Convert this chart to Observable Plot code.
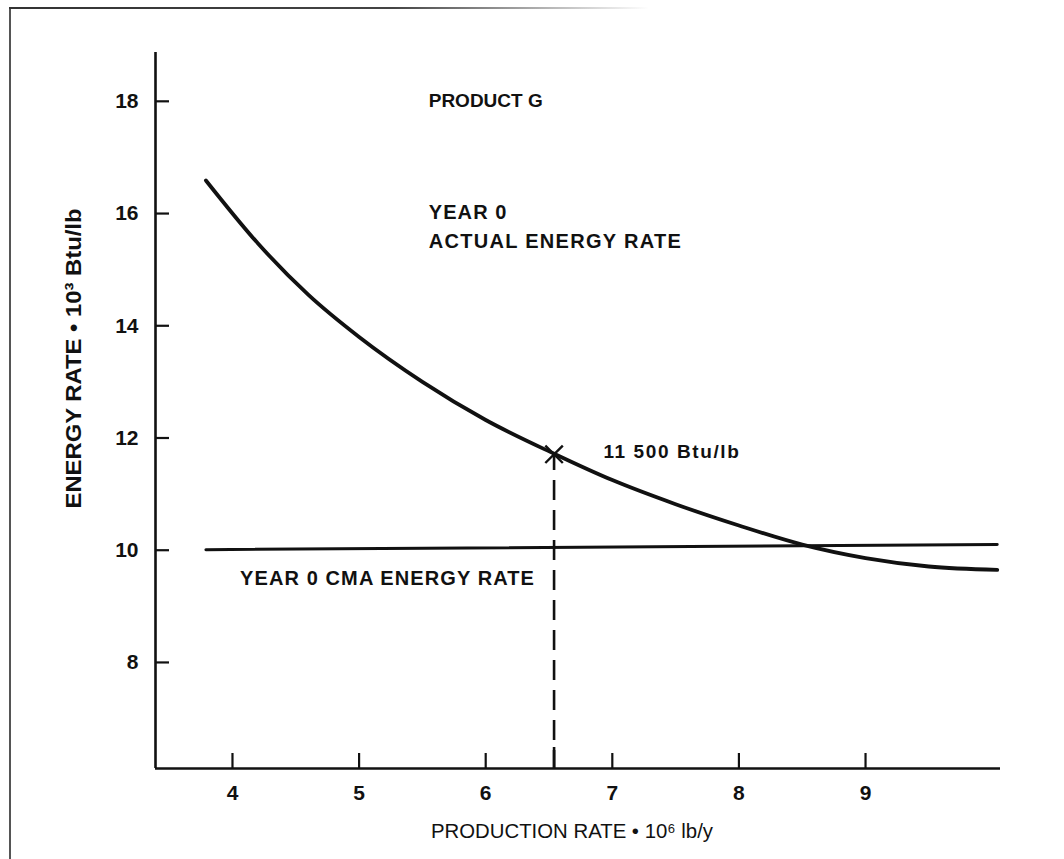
<!DOCTYPE html>
<html>
<head>
<meta charset="utf-8">
<script src="https://cdn.jsdelivr.net/npm/d3@7"></script>
<script src="https://cdn.jsdelivr.net/npm/@observablehq/plot@0.6"></script>
<style>
  html, body { margin: 0; padding: 0; background: #fff; }
  #wrap { position: relative; width: 1064px; height: 859px; overflow: hidden; }
  #edgeL { position: absolute; left: 9px; top: 8px; width: 1.5px; height: 851px; background: #555; }
  #edgeT { position: absolute; left: 9px; top: 7px; width: 640px; height: 2px;
           background: linear-gradient(to right, #333 0%, #444 60%, rgba(120,120,120,0) 100%); }
  #chart { position: absolute; left: 0; top: 0; }
</style>
</head>
<body>
<div id="wrap"><div id="edgeL"></div><div id="edgeT"></div><div id="chart"></div></div>
<script>
// ---- data ----
const xTicks = [4, 5, 6, 7, 8, 9];
const yTicks = [8, 10, 12, 14, 16, 18];

// Year 0 actual energy rate curve (production rate 10^6 lb/y, energy rate 10^3 Btu/lb)
const actualX = [3.79, 4.2, 4.6, 5.0, 5.5, 6.0, 6.54, 7.0, 7.5, 8.0, 8.5, 9.0, 9.5, 10.04];
const actualY = [16.59, 15.47, 14.55, 13.80, 13.00, 12.32, 11.72, 11.25, 10.82, 10.44, 10.10, 9.86, 9.71, 9.65];

// Year 0 CMA energy rate (nearly flat line)
const cmaX = [3.79, 10.04];
const cmaY = [10.01, 10.10];

// Marked operating point
const pointX = [6.54];
const pointY = [11.71];

// Annotation texts
const noteText = ["PRODUCT G", "YEAR 0", "ACTUAL ENERGY RATE", "11 500 Btu/lb", "YEAR 0 CMA ENERGY RATE"];
const noteX = [5.55, 5.55, 5.55, 6.93, 4.06];
const noteY = [18.0, 16.02, 15.5, 11.75, 9.5];

const xLabel = "PRODUCTION RATE \u2022 10\u2076 lb/y";
const yLabel = "ENERGY RATE \u2022 10\u00B3 Btu/lb";

// ---- tables ----
const actual = actualX.map((x, i) => ({x, y: actualY[i]}));
const cma = cmaX.map((x, i) => ({x, y: cmaY[i]}));
const point = pointX.map((x, i) => ({x, y: pointY[i]}));
const notes = noteText.map((t, i) => ({t, x: noteX[i], y: noteY[i]}));

const xDomain = [3.392, 10.066];
const yDomain = [6.11, 18.87];
const FONT = "'Liberation Sans', Arial, Helvetica, sans-serif";

const chart = Plot.plot({
  width: 1064,
  height: 859,
  marginLeft: 155,
  marginRight: 64,
  marginTop: 52,
  marginBottom: 91,
  style: {fontFamily: FONT, color: "#111", background: "transparent"},
  x: {domain: xDomain},
  y: {domain: yDomain},
  marks: [
    // axis lines
    Plot.ruleX([xDomain[0]], {stroke: "#111", strokeWidth: 2.6}),
    Plot.ruleY([yDomain[0]], {stroke: "#111", strokeWidth: 2.6}),
    // inward ticks
    Plot.axisX(xTicks, {tickSize: -15, tickFormat: () => "", strokeWidth: 2.2, stroke: "#111", label: null}),
    Plot.axisY(yTicks, {tickSize: -14, tickFormat: () => "", strokeWidth: 2.2, stroke: "#111", label: null}),
    Plot.axisX(pointX, {tickSize: -21, tickFormat: () => "", strokeWidth: 2.6, stroke: "#111", label: null}),
    // tick labels
    Plot.axisX(xTicks, {tickSize: 0, tickPadding: 17, fontSize: 21, fontWeight: "bold", tickFormat: d => String(d), label: null}),
    Plot.axisY(yTicks, {tickSize: 0, tickPadding: 17, fontSize: 21, fontWeight: "bold", tickFormat: d => String(d), label: null}),
    // data
    Plot.line(cma, {x: "x", y: "y", stroke: "#111", strokeWidth: 3}),
    Plot.line(actual, {x: "x", y: "y", stroke: "#111", strokeWidth: 3.8, curve: "monotone-x", strokeLinecap: "round"}),
    Plot.ruleX(point, {x: "x", y1: yDomain[0], y2: "y", stroke: "#111", strokeWidth: 2.6, strokeDasharray: "20,10", strokeDashoffset: 2}),
    Plot.dot(point, {x: "x", y: "y", symbol: "times", r: 8, stroke: "#111", strokeWidth: 2.4}),
    // annotations
    Plot.text(notes, {x: "x", y: "y", text: "t", textAnchor: "start", fontSize: 19, fontWeight: "bold", fill: "#111"}),
    // axis titles
    Plot.text([xLabel], {frameAnchor: "bottom", dy: 69, dx: -6, textAnchor: "middle", fontSize: 21, fill: "#111"}),
    Plot.text([yLabel], {frameAnchor: "left", dx: -82, dy: -52, textAnchor: "middle", rotate: -90, fontSize: 22, fontWeight: "bold", fill: "#111"})
  ]
});

document.getElementById("chart").appendChild(chart);

// tick label size (enforced on the rendered text)
d3.select(chart).selectAll('g[aria-label="x-axis tick label"] text, g[aria-label="y-axis tick label"] text')
  .style("font-size", "21px").style("font-weight", "bold");

// typographic adjustments to match the original lettering widths
const spacing = {
  "11 500 Btu/lb": "1.6px",
  "YEAR 0": "1.1px",
  "ACTUAL ENERGY RATE": "1.3px",
  "YEAR 0 CMA ENERGY RATE": "1.1px"
};
d3.select(chart).selectAll("text").each(function() {
  const t = this.textContent;
  if (spacing[t]) {
    d3.select(this).attr("letter-spacing", spacing[t]).style("font-size", "20px");
  }
  if (t === xLabel) d3.select(this).attr("textLength", 282).attr("lengthAdjust", "spacingAndGlyphs");
  if (t === yLabel) d3.select(this).attr("textLength", 300).attr("lengthAdjust", "spacingAndGlyphs");
});
d3.select(chart).selectAll("text").filter(function() { return this.textContent === "11 500 Btu/lb"; })
  .style("font-size", "19px");
</script>
</body>
</html>
